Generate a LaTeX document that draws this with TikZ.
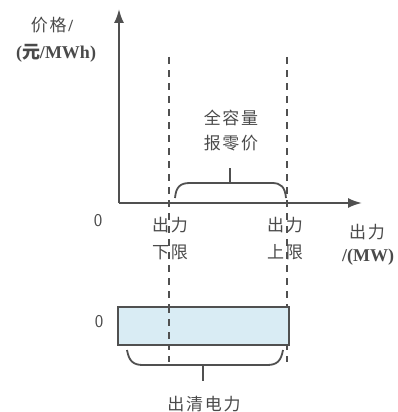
\documentclass[tikz,border=0pt]{standalone}
\usepackage{fontspec}
\setmainfont{Liberation Serif}
\newfontfamily\cjk[LetterSpace=10]{Noto Sans CJK SC}
\usetikzlibrary{arrows.meta}
\definecolor{ln}{HTML}{505050}
\definecolor{tx}{HTML}{4A4A4A}
\definecolor{boxfill}{HTML}{D9ECF4}
\tikzset{
  axis/.style={draw=ln, line width=2pt, -{Latex[length=14pt,width=10pt]}},
  guide/.style={draw=ln, line width=2pt, dash pattern=on 7pt off 6pt},
  bracepath/.style={draw=ln, line width=1.8pt},
  lbl/.style={text=tx, font=\cjk\fontsize{17}{27}\selectfont, align=center, inner sep=0pt},
  latin/.style={text=tx, font=\bfseries\fontsize{18}{22}\selectfont, align=center, inner sep=0pt},
  zero/.style={text=tx, font=\sffamily\fontsize{18}{20}\selectfont, inner sep=0pt},
  bar/.style={draw=ln, line width=1.9pt, fill=boxfill}
}
\begin{document}
\begin{tikzpicture}[x=1pt,y=-1pt]
\useasboundingbox (0,0) rectangle (397,412);
% axes
\coordinate (o) at (119,203);
\coordinate (ytip) at (119,9);
\coordinate (xtip) at (362,203);
\draw[axis] (o) -- (ytip);
\draw[axis] (o) -- (xtip);
% dashed guides
\coordinate (g1t) at (169,57);
\coordinate (g1b) at (169,362);
\coordinate (g2t) at (287,57);
\coordinate (g2b) at (287,362);
\draw[guide] (g1t) -- (g1b);
\draw[guide] (g2t) -- (g2b);
% bar
\node[bar, minimum width=171pt, minimum height=38pt, inner sep=0pt, anchor=north west] (bar) at (117,306) {};
\draw[guide] (169,306) -- (169,344);
% upper brace
\coordinate (ub) at (230,183);
\coordinate (ubs) at (230,168);
\draw[bracepath] (175,198) .. controls (176,187) and (180,183) .. (190,183) -- (272,183) .. controls (281,183) and (285,187) .. (286,198);
\draw[bracepath] (ub) -- (ubs);
% lower brace
\coordinate (lb) at (203,365);
\coordinate (lbs) at (203,381);
\draw[bracepath] (127,350) .. controls (129,361) and (133,365) .. (143,365) -- (267,365) .. controls (277,365) and (281,361) .. (283,350);
\draw[bracepath] (lb) -- (lbs);
% labels
\node[lbl] (price) at (52,25) {价格\textrm{\bfseries /}};
\node[latin] (unit) at (56,53) {(\cjk 元\rm\bfseries/MWh)};
\node[lbl] (full) at (231,118) {全容量};
\node[lbl] (zerop) at (231,143) {报零价};
\node[zero] (z1) at (98,221) {0};
\node[lbl] (lo) at (170,239) {出力\\下限};
\node[lbl] (hi) at (285,239) {出力\\上限};
\node[lbl] (xo) at (367,232) {出力};
\node[latin] (xu) at (368,257) {/(MW)};
\node[zero] (z2) at (99,322) {0};
\node[lbl] (clear) at (204,404) {出清电力};
\end{tikzpicture}
\end{document}
